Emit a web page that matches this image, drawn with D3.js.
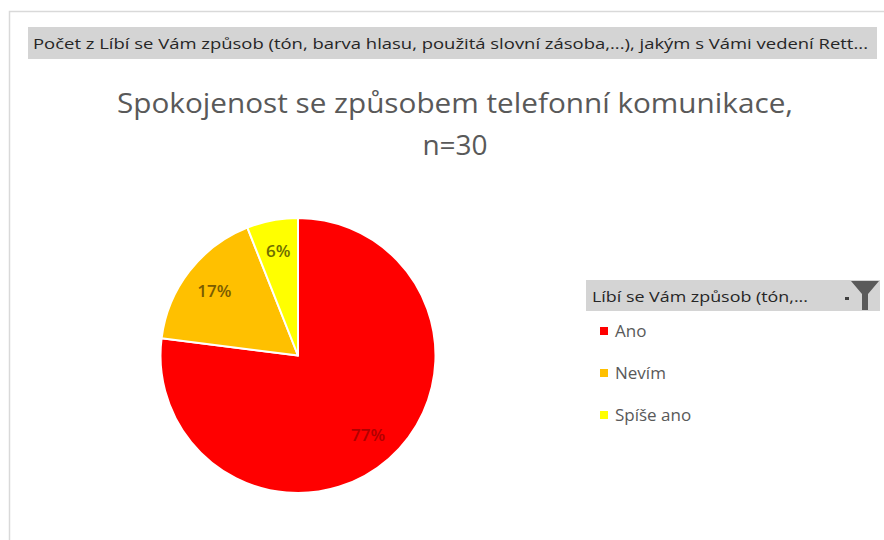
<!DOCTYPE html>
<html>
<head>
<meta charset="utf-8">
<script src="https://cdn.jsdelivr.net/npm/d3@7"></script>
<style>
  html, body { margin: 0; padding: 0; background: #fff; }
  svg { display: block; font-family: "Open Sans", "Noto Sans", sans-serif; }
</style>
</head>
<body>
<svg id="chart" width="884" height="540"></svg>
<script>
// Survey answers (share of respondents, %)
const categories = ["Ano", "Nevím", "Spíše ano"];
const values = [77, 17, 6];
const labels = ["77%", "17%", "6%"];
const colors = ["#FF0000", "#FFC000", "#FFFF00"];
const labelColors = ["#B00000", "#7A5C00", "#6E6E00"];

const fieldButtonText = "Počet z Líbí se Vám způsob (tón, barva hlasu, použitá slovní zásoba,...), jakým s Vámi vedení Rett...";
const titleLines = ["Spokojenost se způsobem telefonní komunikace,", "n=30"];
const legendTitle = "Líbí se Vám způsob (tón,...";

const svg = d3.select("#chart");

// Chart area frame (top and left edges)
svg.append("path")
  .attr("d", "M9.5,540 V11.5 H884")
  .attr("fill", "none")
  .attr("stroke", "#d9d9d9")
  .attr("stroke-width", 1.5);

// Value field button
const fb = svg.append("g");
fb.append("rect")
  .attr("x", 28).attr("y", 27).attr("width", 849).attr("height", 32)
  .attr("fill", "#d4d4d4");
fb.append("text")
  .attr("x", 33).attr("y", 49)
  .attr("font-size", 15)
  .attr("fill", "#262626")
  .attr("textLength", 835).attr("lengthAdjust", "spacingAndGlyphs")
  .text(fieldButtonText);

// Title
svg.append("text")
  .attr("x", 455).attr("y", 113)
  .attr("text-anchor", "middle")
  .attr("font-size", 28)
  .attr("fill", "#595959")
  .attr("textLength", 676).attr("lengthAdjust", "spacingAndGlyphs")
  .text(titleLines[0]);
svg.append("text")
  .attr("x", 455).attr("y", 155)
  .attr("text-anchor", "middle")
  .attr("font-size", 28)
  .attr("fill", "#595959")
  .text(titleLines[1]);

// Pie
const cx = 298, cy = 355.5, radius = 137.5;
const pie = d3.pie().sort(null).value(d => d.value);
const data = categories.map((c, i) => ({ name: c, value: values[i], label: labels[i], i }));
const arcs = pie(data);
const arc = d3.arc().innerRadius(0).outerRadius(radius);
const labelArc = d3.arc().innerRadius(radius * 0.77).outerRadius(radius * 0.77);

const pg = svg.append("g").attr("transform", `translate(${cx},${cy})`);
pg.selectAll("path.slice")
  .data(arcs)
  .join("path")
  .attr("class", "slice")
  .attr("d", arc)
  .attr("fill", d => colors[d.data.i])
  .attr("stroke", "#ffffff")
  .attr("stroke-width", 2)
  .attr("stroke-linejoin", "round");

pg.selectAll("text.lbl")
  .data(arcs)
  .join("text")
  .attr("class", "lbl")
  .attr("transform", d => `translate(${labelArc.centroid(d)})`)
  .attr("text-anchor", "middle")
  .attr("dy", "0.35em")
  .attr("font-size", 17)
  .attr("font-weight", 600)
  .attr("fill", d => labelColors[d.data.i])
  .text(d => d.data.label);

// Legend field button
const lg = svg.append("g");
lg.append("rect")
  .attr("x", 586).attr("y", 280).attr("width", 294).attr("height", 31)
  .attr("fill", "#d4d4d4");
lg.append("text")
  .attr("x", 592).attr("y", 302)
  .attr("font-size", 15)
  .attr("fill", "#262626")
  .attr("textLength", 216).attr("lengthAdjust", "spacingAndGlyphs")
  .text(legendTitle);
// dropdown marker and filter funnel
lg.append("rect")
  .attr("x", 845).attr("y", 297).attr("width", 4).attr("height", 3)
  .attr("fill", "#404040");
lg.append("path")
  .attr("d", "M851,281 H879 L868,294 V310 H862 V294 Z")
  .attr("fill", "#5a5a5a");

// Legend entries
const ly = d3.scalePoint().domain(categories).range([331, 415]);
const items = lg.selectAll("g.item")
  .data(categories)
  .join("g")
  .attr("class", "item")
  .attr("transform", d => `translate(600,${ly(d)})`);
items.append("rect")
  .attr("x", 0).attr("y", -4).attr("width", 8).attr("height", 8)
  .attr("fill", (d, i) => colors[i]);
items.append("text")
  .attr("x", 15).attr("y", 0)
  .attr("dy", "0.35em")
  .attr("font-size", 17)
  .attr("fill", "#595959")
  .text(d => d);
</script>
</body>
</html>
